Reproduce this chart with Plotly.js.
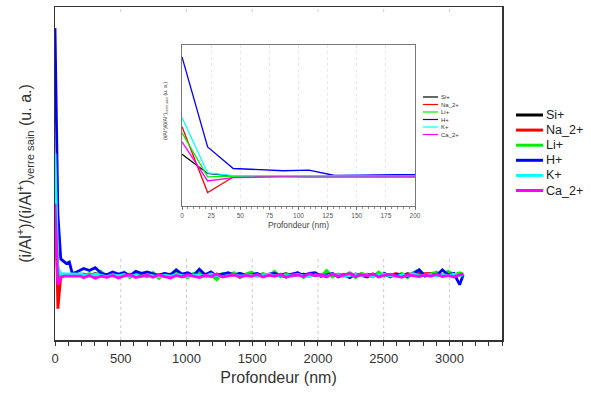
<!DOCTYPE html>
<html><head><meta charset="utf-8">
<script src="https://cdn.plot.ly/plotly-3.0.1.min.js"></script>
<style>html,body{margin:0;padding:0;background:#fff}#chart{width:591px;height:394px}</style>
</head><body><div id="chart"></div>
<script>
// Depth (nm)
const depth = [0,22,44,66,87,109,131,153,175,197,
  218,262,306,350,394,438,482,526,570,614,
  658,702,746,790,834,878,922,966,1010,1054,
  1098,1142,1186,1230,1274,1318,1362,1406,1450,1494,
  1538,1582,1626,1670,1714,1758,1802,1846,1890,1934,
  1978,2022,2066,2110,2154,2198,2242,2286,2330,2374,
  2418,2462,2506,2550,2594,2638,2682,2726,2770,2814,
  2858,2902,2946,2990,3034,3078,3105];

const siPlus = [2.29,1.16,1.0,1.02,1.0,1.0,1.01,1.0,1.0,1.0,
  1.02,0.99,1.03,1.0,0.98,1.02,1.0,1.03,0.99,1.01,
  1.0,1.02,0.98,1.0,1.03,0.99,1.01,1.0,1.02,0.98,
  1.01,1.0,0.97,1.02,1.0,1.01,0.99,1.03,1.0,0.98,
  1.02,1.0,1.01,0.99,1.0,1.03,0.98,1.0,1.02,0.99,
  1.01,1.0,0.98,1.02,1.0,0.99,1.03,1.0,1.01,0.98,
  1.0,1.02,0.99,1.01,1.0,0.98,1.03,1.0,1.02,0.99,
  1.0,1.01,0.98,1.02,1.0,0.99,1.01];

const na2Plus = [3.9,0.04,0.95,1.0,1.0,0.98,1.0,0.99,1.0,0.98,
  1.0,1.01,0.99,1.02,1.0,0.98,1.01,1.0,1.02,0.99,
  1.0,1.03,0.98,1.0,1.01,1.02,0.99,1.0,1.01,0.98,
  1.0,1.02,1.0,0.99,1.01,1.0,1.02,0.98,1.0,1.01,
  0.99,1.02,1.0,1.0,0.98,1.01,1.0,1.02,0.99,1.0,
  1.01,0.98,1.0,1.02,1.0,0.99,1.01,1.0,0.98,1.02,
  1.0,1.01,0.99,1.0,1.03,1.0,0.99,1.04,1.05,1.03,
  1.04,1.02,1.0,1.03,1.01,1.02,1.0];

const liPlus = [3.55,0.96,1.0,1.0,1.0,1.0,1.02,1.0,1.0,1.02,
  0.98,1.04,0.96,1.1,0.94,1.06,0.98,1.08,0.92,1.04,
  1.0,0.94,1.06,0.9,1.02,0.96,1.08,0.98,0.92,1.04,
  1.06,0.94,1.0,0.86,1.04,0.98,1.06,0.92,1.02,1.08,
  0.96,1.04,0.98,1.1,0.94,1.02,0.96,1.06,0.92,1.0,
  1.04,0.96,1.12,0.94,1.02,0.98,1.06,0.92,1.04,1.0,
  0.94,1.08,0.96,1.02,0.98,1.04,0.92,1.06,1.14,0.98,
  1.04,1.08,0.96,1.1,1.0,1.06,1.02];

const hPlus = [8.0,2.72,1.45,1.38,1.32,1.36,1.04,1.06,1.1,1.15,
  1.18,1.12,1.2,1.05,1.0,1.08,1.02,1.06,0.98,1.1,
  1.04,1.08,1.02,0.98,1.04,1.0,1.14,1.02,1.06,0.98,
  1.16,1.0,1.08,0.96,1.02,1.06,1.0,1.04,0.98,1.02,
  1.04,0.96,1.02,1.04,0.98,0.94,1.02,1.06,0.98,1.04,
  1.06,0.96,1.0,1.04,0.94,1.0,0.92,1.02,0.98,0.94,
  1.02,0.96,1.04,0.94,1.02,0.98,0.96,1.04,1.14,0.96,
  1.02,0.98,1.14,1.0,1.04,0.72,1.0];

const kPlus = [4.45,1.19,1.03,1.03,1.02,1.02,1.02,1.02,1.02,1.02,
  1.0,0.96,1.02,0.98,0.95,1.0,0.97,1.01,0.96,0.99,
  0.95,1.0,0.97,0.94,0.99,0.96,1.01,0.97,0.95,1.0,
  0.98,0.96,1.02,0.97,0.95,0.99,1.01,0.96,0.98,1.0,
  0.95,0.99,1.02,0.97,1.0,0.96,0.98,1.01,0.97,0.95,
  1.0,0.98,0.96,1.02,0.99,0.95,0.98,1.01,0.97,1.0,
  0.96,0.99,1.02,0.97,0.95,1.0,0.98,1.03,0.97,0.99,
  1.01,0.96,1.0,0.98,1.02,0.97,1.0];

const ca2Plus = [3.02,0.72,0.92,0.96,0.96,0.95,0.96,0.96,0.97,0.96,
  0.92,0.98,0.9,0.96,0.93,0.98,0.91,0.97,1.0,0.92,
  0.96,0.99,0.93,1.0,0.95,0.91,0.98,0.94,1.0,0.96,
  0.92,0.99,0.95,1.02,0.94,0.97,1.0,0.93,0.98,0.96,
  1.01,0.94,0.99,0.96,1.02,0.93,0.98,1.0,0.95,1.03,
  0.97,1.0,0.94,1.02,0.96,0.99,1.04,0.95,1.0,0.97,
  1.02,0.94,0.99,1.01,0.96,0.93,1.0,0.97,0.95,1.0,
  0.96,1.02,0.95,0.98,0.94,1.0,1.02];

const seriesNames = ['Si+','Na_2+','Li+','H+','K+','Ca_2+'];
const seriesValues = [siPlus, na2Plus, liPlus, hPlus, kPlus, ca2Plus];
const seriesColors = ['#000000','#ff0000','#00ee00','#0000ff','#00ffff','#ff00ff'];
const mainTicks = [0,500,1000,1500,2000,2500,3000];
const insetTicks = [0,25,50,75,100,125,150,175,200];

const yTitle = '(i/Al<sup>+</sup>)/(i/Al<sup>+</sup>)<sub>verre sain</sub> (u. a.)';

// pixel -> paper helpers (plot area 55..502 x 7..340)
const L = 55, R = 502, T = 7, B = 340;
const px = x => (x - L) / (R - L);
const py = y => (B - y) / (B - T);

const traces = [];
seriesNames.forEach((name, i) => {
  traces.push({x: depth, y: seriesValues[i], type: 'scatter', mode: 'lines', name: name,
    xaxis: 'x', yaxis: 'y', showlegend: false, line: {color: seriesColors[i], width: 2.8}});
});
seriesNames.forEach((name, i) => {
  traces.push({x: depth, y: seriesValues[i], type: 'scatter', mode: 'lines', name: name,
    xaxis: 'x2', yaxis: 'y2', showlegend: false, line: {color: seriesColors[i], width: 1.3}});
});

const shapes = [];
// main dotted gridlines, interrupted where the inset picture sits
mainTicks.slice(1).forEach(t => {
  shapes.push({type: 'line', xref: 'x', yref: 'paper', layer: 'below', x0: t, x1: t, y0: 0, y1: py(258),
    line: {color: '#cccccc', width: 1, dash: 'dot'}});
  shapes.push({type: 'line', xref: 'x', yref: 'paper', layer: 'below', x0: t, x1: t, y0: py(12), y1: 1,
    line: {color: '#cccccc', width: 1, dash: 'dot'}});
});
const annotations = [];

// main legend
seriesNames.forEach((name, i) => {
  const yy = 115 + i * 15.1;
  shapes.push({type: 'line', xref: 'paper', yref: 'paper', layer: 'above',
    x0: px(516), x1: px(543), y0: py(yy), y1: py(yy), line: {color: seriesColors[i], width: 3}});
  annotations.push({xref: 'paper', yref: 'paper', x: px(544), y: py(yy), xanchor: 'left', yanchor: 'middle',
    text: name, showarrow: false, font: {size: 12.5, color: '#222'}});
});
// inset legend
seriesNames.forEach((name, i) => {
  const yy = 97 + i * 7.5;
  shapes.push({type: 'line', xref: 'paper', yref: 'paper', layer: 'above',
    x0: px(423), x1: px(438), y0: py(yy), y1: py(yy), line: {color: seriesColors[i], width: 1.2}});
  annotations.push({xref: 'paper', yref: 'paper', x: px(439), y: py(yy), xanchor: 'left', yanchor: 'middle',
    text: name, showarrow: false, font: {size: 6, color: '#333'}});
});
// inset y title
annotations.push({xref: 'paper', yref: 'paper', x: px(166), y: py(111), xanchor: 'center', yanchor: 'middle',
  textangle: -90, text: yTitle, showarrow: false, font: {size: 5.2, color: '#333'}});

const layout = {
  width: 591, height: 394,
  margin: {l: L, r: 591 - R, t: T, b: 394 - B, pad: 0},
  paper_bgcolor: '#ffffff', plot_bgcolor: '#ffffff',
  font: {family: 'Liberation Sans, Arial, sans-serif', color: '#333'},
  showlegend: false,
  xaxis: {domain: [0, 1], anchor: 'y', range: [0, 3400], tickvals: mainTicks, ticks: 'outside', ticklen: 4,
    tickcolor: '#333', tickwidth: 1, showline: true, linecolor: '#333', linewidth: 1.5, mirror: true,
    showgrid: false, zeroline: false,
    minor: {dtick: 100, tick0: 0, ticks: 'outside', ticklen: 4, tickcolor: '#333', showgrid: false},
    tickfont: {size: 13, color: '#333'}, ticklabelstandoff: 2,
    title: {text: 'Profondeur (nm)', font: {size: 16, color: '#333'}, standoff: 6}},
  yaxis: {domain: [0, 1], anchor: 'x', range: [-0.85, 8.6], showticklabels: false, ticks: '',
    showgrid: false, zeroline: false, showline: true, linecolor: '#333', linewidth: 1.5, mirror: true,
    title: {text: yTitle, font: {size: 16, color: '#333'}, standoff: 18}},
  xaxis2: {domain: [px(182), px(415)], anchor: 'y2', range: [0, 200], tickvals: insetTicks, ticks: 'outside',
    ticklen: 2.5, tickcolor: '#666', tickwidth: 0.8, showline: true, linecolor: '#777', linewidth: 1, mirror: true,
    showgrid: true, gridcolor: '#e8e8e8', griddash: 'dot', gridwidth: 1, zeroline: false,
    minor: {dtick: 5, tick0: 0, ticks: 'outside', ticklen: 1.5, tickcolor: '#777', showgrid: false},
    tickfont: {size: 6.5, color: '#555'}, ticklabelstandoff: 1,
    title: {text: 'Profondeur (nm)', font: {size: 8.4, color: '#444'}, standoff: 3}},
  yaxis2: {domain: [py(206), py(45)], anchor: 'x2', range: [-0.75, 8.7], showticklabels: false, ticks: '',
    showgrid: false, zeroline: false, showline: true, linecolor: '#777', linewidth: 1, mirror: true},
  shapes: shapes,
  annotations: annotations
};

Plotly.newPlot('chart', traces, layout, {staticPlot: true, displayModeBar: false});
</script>
</body></html>
